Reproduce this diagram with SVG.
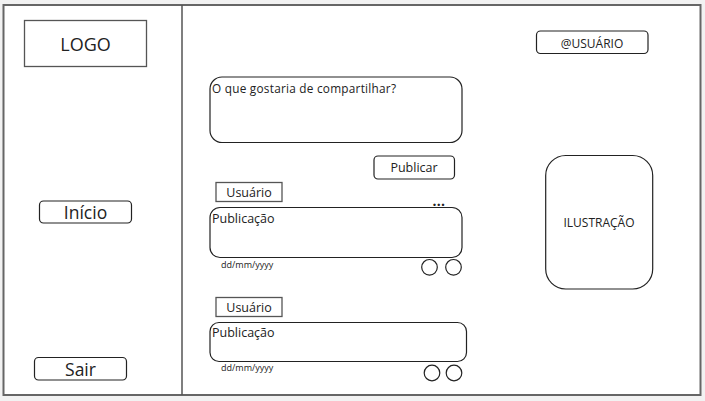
<svg xmlns="http://www.w3.org/2000/svg" width="705" height="401" viewBox="0 0 705 401">
<style>
text{font-family:"Open Sans","Noto Sans","Liberation Sans",sans-serif;fill:#222}
.b{fill:#fff;stroke:#222;stroke-width:1.2}
.g{fill:#fff;stroke:#555;stroke-width:1.3}
.c{text-anchor:middle}
</style>
<rect x="0" y="0" width="705" height="401" fill="#f2f2f2"/>
<g id="frame">
<rect x="3.5" y="5" width="697" height="390" fill="#fff" stroke="#666" stroke-width="2"/>
<line x1="182" y1="5" x2="182" y2="395" stroke="#555" stroke-width="1.5"/>
</g>
<g id="logo"><rect class="g" x="24.5" y="20.5" width="122" height="46"/><text class="c" x="85.5" y="51" font-size="18">LOGO</text></g>
<g id="inicio"><rect class="b" x="39.5" y="201" width="92" height="22" rx="4"/><text class="c" x="85.5" y="218.5" font-size="17.5">Início</text></g>
<g id="sair"><rect class="b" x="34.5" y="357.5" width="92" height="22.5" rx="4"/><text class="c" x="80.5" y="376" font-size="17.5">Sair</text></g>
<g id="usuario-top"><rect class="b" x="536.5" y="31" width="111.5" height="22.5" rx="4"/><text class="c" x="592" y="47.5" font-size="12">@USUÁRIO</text></g>
<g id="ilustracao"><rect class="b" x="545.7" y="155.5" width="107" height="133.5" rx="20"/><text class="c" x="599" y="227" font-size="12">ILUSTRAÇÃO</text></g>
<g id="compartilhar"><rect class="b" x="210" y="77" width="252" height="65.5" rx="12"/><text x="212" y="93" font-size="11.8" textLength="184">O que gostaria de compartilhar?</text></g>
<g id="publicar"><rect class="b" x="374" y="156" width="80.5" height="23" rx="4"/><text class="c" x="414" y="171.7" font-size="12.5">Publicar</text></g>
<g id="post1">
<rect class="g" x="216" y="182.5" width="66" height="19"/><text class="c" x="249" y="196.7" font-size="12.5">Usuário</text>
<rect class="b" x="210" y="207.5" width="252" height="50" rx="10"/><text x="212" y="222.7" font-size="12.5">Publicação</text>
<text x="432.5" y="206" font-size="14" font-weight="bold" letter-spacing="0.3">...</text>
<text x="221" y="268" font-size="9">dd/mm/yyyy</text>
<circle class="b" cx="429.5" cy="267.3" r="7.8"/><circle class="b" cx="453.5" cy="267.3" r="7.8"/>
</g>
<g id="post2">
<rect class="g" x="216" y="297.5" width="66" height="19"/><text class="c" x="249" y="311.7" font-size="12.5">Usuário</text>
<rect class="b" x="210" y="322.5" width="256.5" height="39" rx="9"/><text x="212" y="336.7" font-size="12.5">Publicação</text>
<text x="221" y="371" font-size="9">dd/mm/yyyy</text>
<circle class="b" cx="432" cy="373" r="7.8"/><circle class="b" cx="454" cy="373" r="7.8"/>
</g>
<g id="connectors"></g>
</svg>
